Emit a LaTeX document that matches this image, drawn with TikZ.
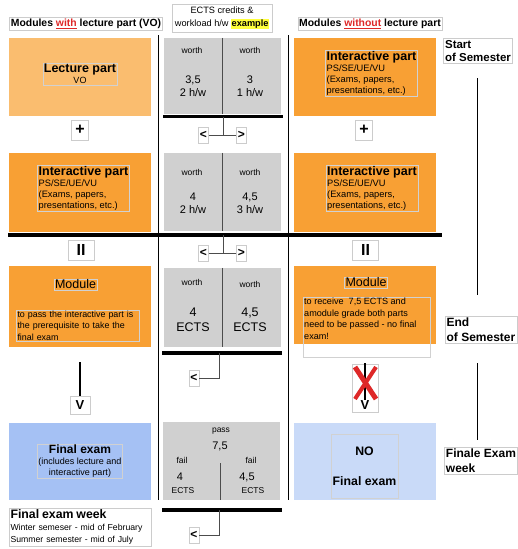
\documentclass[tikz,border=0pt]{standalone}
\usepackage{fontspec}
\setmainfont{Liberation Sans}
\usepackage{tikz}
\usetikzlibrary{calc}

\definecolor{lectureorange}{RGB}{250,189,111}
\definecolor{partorange}{RGB}{248,160,52}
\definecolor{examblue}{RGB}{165,193,244}
\definecolor{noexamblue}{RGB}{201,218,248}
\definecolor{ectsgray}{RGB}{208,208,208}
\definecolor{markyellow}{RGB}{255,255,60}
\definecolor{withred}{RGB}{222,40,40}

\begin{document}
\begin{tikzpicture}[x = 1pt, y = -1pt,
						panel/.style={minimum width=142pt, minimum height=78pt, inner sep=0pt},
						ectspanel/.style={fill=ectsgray, minimum width=117pt, minimum height=78pt, inner sep=0pt},
						tag/.style={draw=black!20, fill=white, inner sep=1.5pt},
						inbox/.style={draw=black!18, inner sep=1pt},
						sign/.style={tag, font=\bfseries\fontsize{16}{16}\selectfont, minimum width=17pt, minimum height=20pt, inner sep=0pt},
						choice/.style={tag, inner sep=0pt, font=\bfseries\fontsize{12}{12}\selectfont, minimum width=10pt, minimum height=16pt},
						bar/.style={line width=3.2pt},
						link/.style={black!70, line width=0.9pt},
						small/.style={font=\fontsize{8.5}{10}\selectfont},
						num/.style={font=\fontsize{11}{13}\selectfont, align=center},
						]
	
		\useasboundingbox (0, 0) rectangle (517, 549);
		
		% Column headings
		\node[tag, font=\bfseries\fontsize{10.4}{12}\selectfont] (headWith) at (86, 24) {Modules \textcolor{withred}{\underline{with}} lecture part (VO)};
		\node[tag, font=\bfseries\fontsize{10.4}{12}\selectfont] (headWithout) at (370, 24) {Modules \textcolor{withred}{\underline{without}} lecture part};
		\node[tag, align=center, font=\fontsize{9.2}{12.5}\selectfont, inner sep=3pt] (headEcts) at (222, 18) {ECTS credits \&\\workload h/w {\setlength{\fboxsep}{0.5pt}\colorbox{markyellow}{\bfseries example}}};
		
		% Column separators
		\draw[line width=0.9pt] (158, 35) -- (158, 500);
		\draw[line width=0.9pt] (288, 35) -- (288, 500);
		
		% Left column: modules with lecture part
		\node[panel, fill=lectureorange] (lectL) at (80, 76.5) {};
		\node[inbox, align=center, font=\fontsize{9}{11}\selectfont] (lectLtxt) at (80, 74) {{\bfseries\fontsize{12.5}{14}\selectfont Lecture part}\\VO};
		\node[sign] (plusL) at (80, 130) {+};
		\node[panel, fill=partorange, minimum height=79pt] (partL) at (80, 192) {};
		\node[inbox, align=left, font=\fontsize{9.3}{11}\selectfont] (partLtxt) at (83.5, 188.5) {{\bfseries\fontsize{12.5}{13}\selectfont Interactive part}\\PS/SE/UE/VU\\(Exams, papers,\\presentations, etc.)};
		\node[sign, minimum width=26pt] (eqL) at (81, 250) {II};
		\node[panel, fill=partorange, minimum height=81pt] (modL) at (80, 306.5) {};
		\node[inbox, font=\fontsize{12.5}{14}\selectfont] (modLhead) at (75.5, 284.5) {Module};
		\node[inbox, align=left, text width=121pt, font=\fontsize{8.9}{11.5}\selectfont] (modLtxt) at (78, 325.5) {to pass the interactive part is\\the prerequisite to take the\\final exam};
		
		% Arrow down to the exam
		\coordinate (downLtop) at (80, 362);
		\node[tag, font=\bfseries\fontsize{13}{13}\selectfont, minimum width=20pt, minimum height=18pt, inner sep=0pt] (downL) at (80, 405) {V};
		\draw[line width=2.5pt] (downLtop) -- (downL.north);
		
		\node[panel, fill=examblue, minimum height=77pt] (examL) at (80, 461.5) {};
		\node[inbox, align=center, font=\fontsize{9}{11}\selectfont] (examLtxt) at (80, 461) {{\bfseries\fontsize{12}{14}\selectfont Final exam}\\(includes lecture and\\interactive part)};
		\node[tag, align=left, text width=139pt, inner sep=1.5pt, font=\fontsize{8.7}{12}\selectfont] (weekL) at (80, 527) {{\bfseries\fontsize{12.3}{13}\selectfont Final exam week}\\Winter semeser - mid of February\\Summer semester - mid of July};
		
		% Right column: modules without lecture part
		\node[panel, fill=partorange] (partR1) at (365, 77) {};
		\node[inbox, align=left, font=\fontsize{9.3}{11}\selectfont] (partR1txt) at (371.5, 73.5) {{\bfseries\fontsize{12.5}{13}\selectfont Interactive part}\\PS/SE/UE/VU\\(Exams, papers,\\presentations, etc.)};
		\node[sign] (plusR) at (364, 130) {+};
		\node[panel, fill=partorange, minimum height=79pt] (partR2) at (365, 192) {};
		\node[inbox, align=left, font=\fontsize{9.3}{11}\selectfont] (partR2txt) at (372, 188.5) {{\bfseries\fontsize{12.5}{13}\selectfont Interactive part}\\PS/SE/UE/VU\\(Exams, papers,\\presentations, etc.)};
		\node[sign, minimum width=26pt] (eqR) at (365.5, 250) {II};
		\node[panel, fill=partorange, minimum height=78pt] (modR) at (365, 305) {};
		\node[inbox, font=\fontsize{12.5}{14}\selectfont] (modRhead) at (366, 282.5) {Module};
		\node[inbox, minimum width=127pt, minimum height=60pt, anchor=north west] (modRbox) at (303, 297) {};
		\node[anchor=north west, align=left, inner sep=1pt, font=\fontsize{9.1}{11.5}\selectfont] (modRtxt) at (modRbox.north west) {to receive\ \ 7,5 ECTS and\\amodule grade both parts\\need to be passed - no final\\exam!};
		
		% Crossed out arrow
		\node[tag, minimum width=26pt, minimum height=48pt] (crossR) at (365, 388) {};
		\coordinate (downRtop) at (365, 363);
		\node[font=\bfseries\fontsize{13}{13}\selectfont, inner sep=0pt] (downR) at (365, 405) {V};
		\draw[line width=2.5pt] (downRtop) -- (downR.north);
		\draw[withred, line width=5pt] (355, 367) -- (376, 399);
		\draw[withred, line width=4pt] (376, 367) -- (355, 399);
		
		\node[panel, fill=noexamblue, minimum height=77pt] (examR) at (365, 461.5) {};
		\node[inbox, align=center, minimum width=67pt, minimum height=64pt, font=\bfseries\fontsize{12.3}{30}\selectfont] (examRtxt) at (364.5, 466) {NO\\Final exam};
		
		% Middle column: ECTS examples
		\node[ectspanel, minimum height=76pt] (ects1) at (222.5, 76) {};
		\draw[link] (ects1.north) -- (ects1.south);
		\node[small] (worth1a) at (192, 50) {worth};
		\node[small] (worth1b) at (250, 50) {worth};
		\node[num] (val1a) at (193, 86) {3,5\\2 h/w};
		\node[num] (val1b) at (250, 86) {3\\1 h/w};
		\draw[bar] (163, 116.5) -- (283, 116.5);
		\coordinate (fork1) at (223, 116.5);
		\node[choice] (lt1) at (203.5, 135) {<};
		\node[choice] (gt1) at (241.5, 135) {>};
		\draw[link] (lt1) -- (gt1);
		\draw[link] (fork1) -- (fork1 |- lt1);
		
		\node[ectspanel] (ects2) at (222.5, 192) {};
		\draw[link] (ects2.north) -- (ects2.south);
		\node[small] (worth2a) at (192, 172) {worth};
		\node[small] (worth2b) at (250, 172) {worth};
		\node[num] (val2a) at (193, 203.5) {4\\2 h/w};
		\node[num] (val2b) at (250, 203.5) {4,5\\3 h/w};
		
		% Thick line across the middle
		\draw[bar] (8, 235) -- (442, 235);
		\coordinate (fork2) at (223, 235);
		\node[choice] (lt2) at (203.5, 253) {<};
		\node[choice] (gt2) at (241.5, 253) {>};
		\draw[link] (lt2) -- (gt2);
		\draw[link] (fork2) -- (fork2 |- lt2);
		
		\node[ectspanel, minimum height=79pt] (ects3) at (222.5, 307.5) {};
		\draw[link] (ects3.north) -- (ects3.south);
		\node[small] (worth3a) at (192, 282) {worth};
		\node[small] (worth3b) at (250, 284) {worth};
		\node[num, font=\fontsize{12.5}{15}\selectfont] (val3a) at (193, 319.5) {4\\ECTS};
		\node[num, font=\fontsize{12.5}{15}\selectfont] (val3b) at (250, 319.5) {4,5\\ECTS};
		\draw[bar] (162, 353) -- (282, 353);
		\coordinate (fork3) at (219, 353);
		\node[choice] (lt3) at (194, 378) {<};
		\draw[link] (fork3) -- (fork3 |- lt3) -- (lt3);
		
		\node[ectspanel] (ects4) at (221.5, 461) {};
		\draw[link] (220, 463) -- (220, 500);
		\node[small] (pass4) at (221, 431) {pass};
		\node[num] (val4) at (220, 446) {7,5};
		\node[small] (fail4a) at (182, 460) {fail};
		\node[small] (fail4b) at (251, 460) {fail};
		\node[num] (val4a) at (180, 477) {4};
		\node[num] (val4b) at (247, 477) {4,5};
		\node[small] (unit4a) at (183, 491) {ECTS};
		\node[small] (unit4b) at (253, 491) {ECTS};
		\draw[bar] (162, 510) -- (282, 510);
		\coordinate (fork4) at (219, 510);
		\node[choice] (lt4) at (194, 535) {<};
		\draw[link] (fork4) -- (fork4 |- lt4) -- (lt4);
		
		% Semester timeline
		\node[tag, align=left, font=\bfseries\fontsize{11.5}{13.5}\selectfont] (semStart) at (478, 51) {Start\\of Semester};
		\node[tag, align=left, font=\bfseries\fontsize{12}{15}\selectfont] (semEnd) at (481, 330) {End\\of Semester};
		\node[tag, align=left, font=\bfseries\fontsize{12}{15}\selectfont] (semExam) at (481, 460.5) {Finale Exam\\week};
		\draw[line width=0.9pt] (477, 78) -- (477, 295);
		\draw[line width=0.9pt] (477, 363) -- (477, 440);
		
	\end{tikzpicture}
\end{document}
